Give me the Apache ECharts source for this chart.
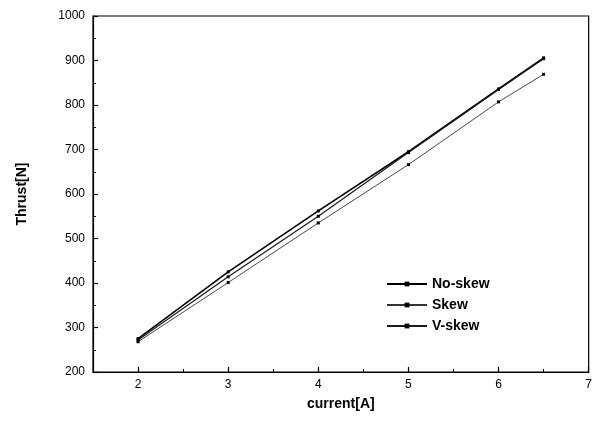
<!DOCTYPE html>
<html>
<head>
<meta charset="utf-8">
<script src="https://cdn.jsdelivr.net/npm/echarts@6/dist/echarts.min.js"></script>
<style>
  html, body { margin: 0; padding: 0; background: #fff; }
  #chart { width: 595px; height: 429px; }
</style>
</head>
<body>
<div id="chart"></div>
<script>
// Current values (A) where thrust was measured
const current = [2, 3, 4, 5, 6, 6.5];

// Thrust (N) per winding arrangement
const noSkew = [275, 425, 562, 695, 836, 906];
const skew   = [268, 401, 535, 666, 807, 869];
const vSkew  = [272, 414, 550, 693, 835, 904];

// Axis ticks
const xMajor = [2, 3, 4, 5, 6, 7];
const xMinor = [2.5, 3.5, 4.5, 5.5, 6.5];

const pairs = ys => current.map((x, i) => [x, ys[i]]);

const FONT = 'Liberation Sans';
const chart = echarts.init(document.getElementById('chart'), null, { renderer: 'canvas' });

chart.setOption({
  animation: false,
  backgroundColor: '#fff',
  textStyle: { fontFamily: FONT, color: '#000' },
  grid: {
    left: 93, right: 2, top: 16, bottom: 57,
    show: true, borderColor: '#000', borderWidth: 1.2, backgroundColor: 'transparent'
  },
  legend: {
    orient: 'vertical',
    left: 381, top: 272,
    itemWidth: 40, itemHeight: 6, itemGap: 7,
    textStyle: { fontFamily: FONT, fontSize: 14, color: '#000', fontWeight: 'bold' },
    data: ['No-skew', 'Skew', 'V-skew']
  },
  xAxis: [
    {
      type: 'value', min: 1.5, max: 7, interval: 0.5,
      name: 'current[A]', nameLocation: 'middle', nameGap: 25,
      nameTextStyle: { fontFamily: FONT, fontSize: 14, fontWeight: 'bold', color: '#000' },
      axisLine: { show: true, lineStyle: { color: '#000', width: 1.2 } },
      axisTick: { show: true, inside: true, length: 5, customValues: xMajor, lineStyle: { color: '#000', width: 1.2 } },
      axisLabel: { customValues: xMajor, fontFamily: FONT, fontSize: 12, color: '#000', margin: 7 },
      splitLine: { show: false }
    },
    {
      type: 'value', min: 1.5, max: 7, interval: 0.5, position: 'bottom',
      axisLine: { show: false },
      axisTick: { show: true, inside: true, length: 3, customValues: xMinor, lineStyle: { color: '#000', width: 1 } },
      axisLabel: { show: false },
      splitLine: { show: false }
    }
  ],
  yAxis: {
    type: 'value', min: 200, max: 1000, interval: 100,
    name: 'Thrust[N]', nameLocation: 'middle', nameGap: 64, nameRotate: 90,
    nameTextStyle: { fontFamily: FONT, fontSize: 14, fontWeight: 'bold', color: '#000' },
    axisLine: { show: true, lineStyle: { color: '#000', width: 1.2 } },
    axisTick: { show: true, inside: true, length: 5, lineStyle: { color: '#000', width: 1.2 } },
    minorTick: { show: true, splitNumber: 2, length: 3, lineStyle: { color: '#000', width: 1 } },
    axisLabel: { fontFamily: FONT, fontSize: 12, color: '#000', margin: 8, formatter: v => String(v) },
    splitLine: { show: false }
  },
  series: [
    {
      name: 'No-skew', type: 'line', data: pairs(noSkew),
      symbol: 'rect', symbolSize: 3, showSymbol: true,
      lineStyle: { color: '#000', width: 1.6 },
      itemStyle: { color: '#000' }
    },
    {
      name: 'Skew', type: 'line', data: pairs(skew),
      symbol: 'rect', symbolSize: 3, showSymbol: true,
      lineStyle: { color: '#333', width: 0.9 },
      itemStyle: { color: '#000' }
    },
    {
      name: 'V-skew', type: 'line', data: pairs(vSkew),
      symbol: 'rect', symbolSize: 3, showSymbol: true,
      lineStyle: { color: '#1a1a1a', width: 1.2 },
      itemStyle: { color: '#000' }
    }
  ]
});
</script>
</body>
</html>
